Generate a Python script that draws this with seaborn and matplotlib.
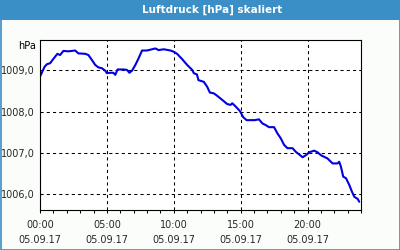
import matplotlib
matplotlib.use("Agg")
import matplotlib.pyplot as plt
import seaborn as sns
import pandas as pd
from matplotlib.patches import Rectangle
from matplotlib.ticker import MultipleLocator, FixedLocator

hours = [0.02, 0.35, 0.53, 0.75, 1.13, 1.30, 1.50, 1.75, 2.12, 2.63, 2.87, 3.38, 3.62, 3.88,
         4.13, 4.37, 4.63, 4.88, 5.00, 5.25, 5.48, 5.63, 5.80, 6.25, 6.50, 6.68, 6.88, 7.13,
         7.37, 7.63, 8.00, 8.38, 8.63, 8.87, 9.25, 9.75, 10.00, 10.25, 10.63, 11.00, 11.38,
         11.50, 11.73, 11.85, 12.25, 12.50, 12.70, 13.00, 13.25, 13.63, 14.00, 14.25, 14.38,
         14.63, 14.95, 15.20, 15.45, 15.75, 16.05, 16.37, 16.63, 16.88, 17.12, 17.50, 17.75,
         18.00, 18.25, 18.50, 18.88, 19.13, 19.37, 19.63, 19.88, 20.12, 20.50, 20.75, 21.00,
         21.25, 21.50, 21.62, 21.88, 22.25, 22.37, 22.50, 22.67, 22.88, 23.12, 23.33, 23.50,
         23.75, 23.87]
pressure = [1008.86, 1009.09, 1009.15, 1009.17, 1009.33, 1009.40, 1009.37, 1009.47, 1009.46,
            1009.48, 1009.41, 1009.40, 1009.37, 1009.25, 1009.13, 1009.07, 1009.05, 1008.99,
            1008.93, 1008.94, 1008.94, 1008.89, 1009.02, 1009.02, 1009.01, 1008.94, 1008.99,
            1009.13, 1009.29, 1009.48, 1009.48, 1009.51, 1009.53, 1009.49, 1009.51, 1009.48,
            1009.45, 1009.40, 1009.27, 1009.13, 1009.01, 1008.93, 1008.90, 1008.76, 1008.72,
            1008.60, 1008.46, 1008.44, 1008.38, 1008.28, 1008.18, 1008.16, 1008.20, 1008.12,
            1008.01, 1007.86, 1007.79, 1007.79, 1007.79, 1007.81, 1007.71, 1007.67, 1007.62,
            1007.62, 1007.47, 1007.35, 1007.19, 1007.11, 1007.11, 1007.02, 1006.96, 1006.89,
            1006.94, 1007.01, 1007.05, 1007.01, 1006.94, 1006.90, 1006.86, 1006.82, 1006.74,
            1006.74, 1006.78, 1006.66, 1006.42, 1006.38, 1006.22, 1006.05, 1005.93, 1005.88,
            1005.81]
x_ticks = [0, 5, 10, 15, 20]
x_labels = ["00:00\n05.09.17", "05:00\n05.09.17", "10:00\n05.09.17",
            "15:00\n05.09.17", "20:00\n05.09.17"]
y_ticks = [1006.0, 1007.0, 1008.0, 1009.0]
y_labels = ["1006,0", "1007,0", "1008,0", "1009,0"]
title = "Luftdruck [hPa] skaliert"
unit = "hPa"

sns.set_style("white")
plt.rcParams["font.family"] = ["DejaVu Sans"]

fig = plt.figure(figsize=(4, 2.5), dpi=100, facecolor="#fbfdfb")
W, H = 400, 250
ax = fig.add_axes([40 / W, 1 - 210 / H, (361 - 40) / W, (210 - 40) / H])
ax.set_facecolor("white")

df = pd.DataFrame({"h": hours, "p": pressure})
sns.lineplot(data=df, x="h", y="p", ax=ax, color="#0000e0", linewidth=1.5)

ax.set_xlim(0, 24)
ax.set_ylim(1005.61, 1009.735)
ax.set_xlabel("")
ax.set_ylabel("")
ax.xaxis.set_major_locator(FixedLocator(x_ticks))
ax.set_xticklabels(x_labels)
ax.xaxis.set_minor_locator(MultipleLocator(1))
ax.set_yticks(y_ticks)
ax.set_yticklabels(y_labels)
ax.tick_params(axis="x", which="both", direction="out", length=2.5, width=0.75,
               color="black", labelsize=7, pad=5, bottom=True)
ax.tick_params(axis="y", length=0, labelsize=7, pad=3.5)
for lab in ax.get_xticklabels():
    lab.set_linespacing(1.6)
ax.grid(True, which="major", color="black", linestyle=(0, (3, 3)), linewidth=0.75)
for s in ax.spines.values():
    s.set_color("black")
    s.set_linewidth(0.8)

fig.text(36 / W, 1 - 46 / H, unit, ha="right", va="center", fontsize=7, color="black")

# title bar and border
fig.patches.append(Rectangle((0, 1 - 20 / H), 1, 20 / H, transform=fig.transFigure,
                             facecolor="#3b8fc7", edgecolor="none", zorder=0))
fig.patches.append(Rectangle((0.5 / W, 0.5 / H), 1 - 1 / W, 1 - 1 / H, transform=fig.transFigure,
                             facecolor="none", edgecolor="#3b8fc7", linewidth=1.2, zorder=1))
fig.text(212 / W, 1 - 10 / H, title, ha="center", va="center", fontsize=7.5,
         fontweight="bold", color="white")

fig.savefig("out.png", dpi=100, facecolor=fig.get_facecolor())
